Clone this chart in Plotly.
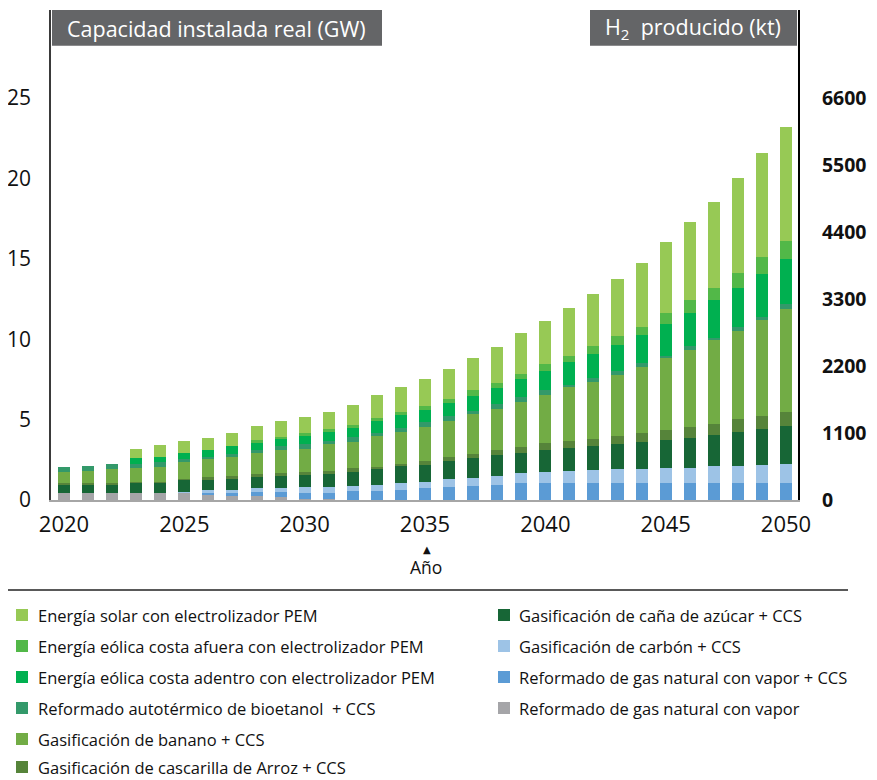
import plotly.graph_objects as go

# ---------------- data (GW) ----------------
years = list(range(2020, 2051))

solar = [0, 0, 0, 0.56, 0.75, 0.75, 0.75, 0.81, 0.87, 1.00, 1.00, 1.06, 1.24, 1.43, 1.55, 1.68,
         1.87, 1.99, 2.24, 2.55, 2.67, 2.99, 3.23, 3.54, 3.98, 4.42, 4.85, 5.35, 5.91, 6.47, 7.09]
eolica_afuera = [0, 0, 0, 0, 0, 0, 0, 0, 0.12, 0.06, 0.19, 0.19, 0.19, 0.19, 0.19, 0.25,
                 0.25, 0.37, 0.31, 0.31, 0.44, 0.37, 0.50, 0.56, 0.50, 0.68, 0.81, 0.75, 0.93, 1.06, 1.12]
eolica_adentro = [0, 0, 0, 0.37, 0.31, 0.37, 0.44, 0.50, 0.50, 0.50, 0.50, 0.56, 0.56, 0.75, 0.81, 0.75,
                  0.81, 0.93, 1.00, 1.12, 1.18, 1.43, 1.49, 1.62, 1.74, 1.99, 2.05, 2.36, 2.43, 2.67, 2.80]
bioetanol = [0.31, 0.31, 0.31, 0.25, 0.31, 0.19, 0.12, 0.19, 0.19, 0.25, 0.31, 0.19, 0.31, 0.19, 0.25, 0.31,
             0.31, 0.19, 0.31, 0.31, 0.31, 0.12, 0.25, 0.25, 0.25, 0.12, 0.25, 0.12, 0.25, 0.19, 0.31]
banano = [0.68, 0.75, 0.87, 0.87, 0.93, 1.06, 1.12, 1.18, 1.31, 1.43, 1.43, 1.68, 1.62, 1.93, 1.99, 2.11,
          2.24, 2.49, 2.55, 2.80, 2.99, 3.36, 3.54, 3.79, 4.10, 4.48, 4.79, 5.22, 5.47, 5.97, 6.41]
arroz = [0.12, 0.12, 0.12, 0.06, 0.06, 0.06, 0.19, 0.19, 0.12, 0.12, 0.19, 0.12, 0.25, 0.12, 0.12, 0.25,
         0.25, 0.25, 0.31, 0.37, 0.44, 0.44, 0.44, 0.50, 0.56, 0.62, 0.68, 0.68, 0.81, 0.81, 0.87]
cana = [0.50, 0.50, 0.50, 0.62, 0.62, 0.75, 0.62, 0.68, 0.75, 0.81, 0.75, 0.87, 0.87, 1.00, 1.06, 1.06,
        1.12, 1.24, 1.31, 1.24, 1.37, 1.43, 1.49, 1.55, 1.68, 1.74, 1.87, 1.93, 2.11, 2.24, 2.36]
carbon = [0, 0, 0, 0, 0, 0.03, 0.19, 0.19, 0.25, 0.25, 0.37, 0.37, 0.31, 0.37, 0.44, 0.37,
          0.50, 0.50, 0.56, 0.62, 0.68, 0.75, 0.81, 0.87, 0.87, 0.93, 0.93, 1.06, 1.06, 1.12, 1.18]
smr_ccs = [0, 0, 0, 0, 0, 0.03, 0.06, 0.12, 0.25, 0.31, 0.37, 0.37, 0.56, 0.56, 0.62, 0.75,
           0.81, 0.87, 0.93, 1.06, 1.06, 1.06, 1.06, 1.06, 1.06, 1.06, 1.06, 1.06, 1.06, 1.06, 1.06]
smr = [0.44, 0.44, 0.44, 0.44, 0.44, 0.44, 0.37, 0.31, 0.22, 0.16, 0.06, 0.06, 0, 0, 0, 0,
       0, 0, 0, 0, 0, 0, 0, 0, 0, 0, 0, 0, 0, 0, 0]

names = {
    "solar": "Energía solar con electrolizador PEM",
    "afuera": "Energía eólica costa afuera con electrolizador PEM",
    "adentro": "Energía eólica costa adentro con electrolizador PEM",
    "bioetanol": "Reformado autotérmico de bioetanol  + CCS",
    "banano": "Gasificación de banano + CCS",
    "arroz": "Gasificación de cascarilla de Arroz + CCS",
    "cana": "Gasificación de caña de azúcar + CCS",
    "carbon": "Gasificación de carbón + CCS",
    "smr_ccs": "Reformado de gas natural con vapor + CCS",
    "smr": "Reformado de gas natural con vapor",
}
colors = {
    "solar": "#97c955",
    "afuera": "#52b848",
    "adentro": "#00b050",
    "bioetanol": "#33996a",
    "banano": "#72ac45",
    "arroz": "#56843a",
    "cana": "#176636",
    "carbon": "#9dc3e6",
    "smr_ccs": "#5b9bd5",
    "smr": "#a5a5a8",
}
series = {
    "smr": smr, "smr_ccs": smr_ccs, "carbon": carbon, "cana": cana, "arroz": arroz,
    "banano": banano, "bioetanol": bioetanol, "adentro": eolica_adentro,
    "afuera": eolica_afuera, "solar": solar,
}
stack_order = ["smr", "smr_ccs", "carbon", "cana", "arroz", "banano", "bioetanol", "adentro", "afuera", "solar"]
legend_col1 = ["solar", "afuera", "adentro", "bioetanol", "banano", "arroz"]
legend_col2 = ["cana", "carbon", "smr_ccs", "smr"]

left_ticks = [0, 5, 10, 15, 20, 25]
right_ticks = [0, 1100, 2200, 3300, 4400, 5500, 6600]
x_ticks = [2020, 2025, 2030, 2035, 2040, 2045, 2050]
KT_PER_GW = 264

FONT = "Open Sans"
# page has an 8px body margin: figure is placed at (8, 8)
OFF = 8
W, H = 877 - OFF, 780 - OFF
# plot area in page pixels
L, R, T, B = 51, 798, 10, 500
Y_MAX = 30.47


def px(x):
    return (x - L) / (R - L)


def py(y):
    return (B - y) / (B - T)


fig = go.Figure()
for key in stack_order:
    fig.add_trace(go.Bar(
        x=years, y=series[key], name=names[key], width=0.5,
        marker=dict(color=colors[key], line=dict(width=0)), showlegend=False,
    ))

# invisible trace for the right axis
fig.add_trace(go.Scatter(x=[years[0]], y=[0], yaxis="y2", mode="markers",
                         marker=dict(opacity=0), showlegend=False, hoverinfo="skip"))

fig.update_layout(
    width=W, height=H,
    margin=dict(l=L - OFF, r=877 - R, t=T - OFF, b=780 - B, pad=0, autoexpand=False),
    paper_bgcolor="white", plot_bgcolor="white",
    barmode="stack", bargap=0,
    font=dict(family=FONT, color="#111111"),
    showlegend=False,
    xaxis=dict(
        range=[2019.46, 2050.5], tickvals=x_ticks, ticktext=[str(v) for v in x_ticks],
        showgrid=False, zeroline=False, showline=True, linecolor="#a6a6a6", linewidth=2,
        ticks="", tickfont=dict(size=22, family=FONT, color="#111111"), ticklabelstandoff=4,
        automargin=False,
    ),
    yaxis=dict(
        range=[0, Y_MAX], tickvals=left_ticks, showgrid=False, zeroline=False,
        showline=True, linecolor="#3a3a3a", linewidth=1.5, ticks="",
        tickfont=dict(size=21, family=FONT, color="#111111"), ticklabelstandoff=14,
        automargin=False,
    ),
    yaxis2=dict(
        range=[0, Y_MAX * KT_PER_GW], tickvals=right_ticks, overlaying="y", side="right",
        showgrid=False, zeroline=False, showline=True, linecolor="#000000", linewidth=2,
        ticks="", tickfont=dict(size=19.5, family=FONT, color="#111111", weight="bold"),
        ticklabelstandoff=18, automargin=False,
    ),
)

shapes = []
annotations = []
# header boxes
shapes.append(dict(type="rect", xref="paper", yref="paper", x0=px(52), x1=px(382), y0=py(45.7), y1=py(10),
                   fillcolor="#646567", line=dict(width=0), layer="above"))
shapes.append(dict(type="rect", xref="paper", yref="paper", x0=px(590), x1=px(797), y0=py(45.7), y1=py(10),
                   fillcolor="#646567", line=dict(width=0), layer="above"))
annotations.append(dict(xref="paper", yref="paper", x=px(65), y=py(28), xanchor="left", yanchor="middle",
                        text="Capacidad instalada real (GW)", showarrow=False,
                        font=dict(size=21.5, color="white", family=FONT)))
annotations.append(dict(xref="paper", yref="paper", x=px(693), y=py(28), xanchor="center", yanchor="middle",
                        text="H<sub>2</sub>  producido (kt)", showarrow=False,
                        font=dict(size=21.5, color="white", family=FONT)))
# axis title
annotations.append(dict(xref="paper", yref="paper", x=px(427), y=py(549), xanchor="center", yanchor="middle",
                        text="▲", showarrow=False, font=dict(size=10, color="#111111", family="DejaVu Sans")))
annotations.append(dict(xref="paper", yref="paper", x=px(426), y=py(567), xanchor="center", yanchor="middle",
                        text="Año", showarrow=False, font=dict(size=17.5, color="#111111", family=FONT)))
# separator line
shapes.append(dict(type="line", xref="paper", yref="paper", x0=px(0), x1=px(848), y0=py(590), y1=py(590),
                   line=dict(color="#222222", width=1.5)))

# manual legend
row_y = [615, 646, 677, 708, 739, 767]
for col, (mx, tx) in zip([legend_col1, legend_col2], [(16, 36), (498, 517)]):
    for i, key in enumerate(col):
        yy = row_y[i]
        shapes.append(dict(type="rect", xref="paper", yref="paper", x0=px(mx), x1=px(mx + 12),
                           y0=py(yy + 6), y1=py(yy - 6), fillcolor=colors[key], line=dict(width=0)))
        annotations.append(dict(xref="paper", yref="paper", x=px(tx), y=py(yy), xanchor="left", yanchor="middle",
                                text=names[key], showarrow=False,
                                font=dict(size=16.5, color="#111111", family=FONT)))

fig.update_layout(shapes=shapes, annotations=annotations)
fig.write_html("out.html")
